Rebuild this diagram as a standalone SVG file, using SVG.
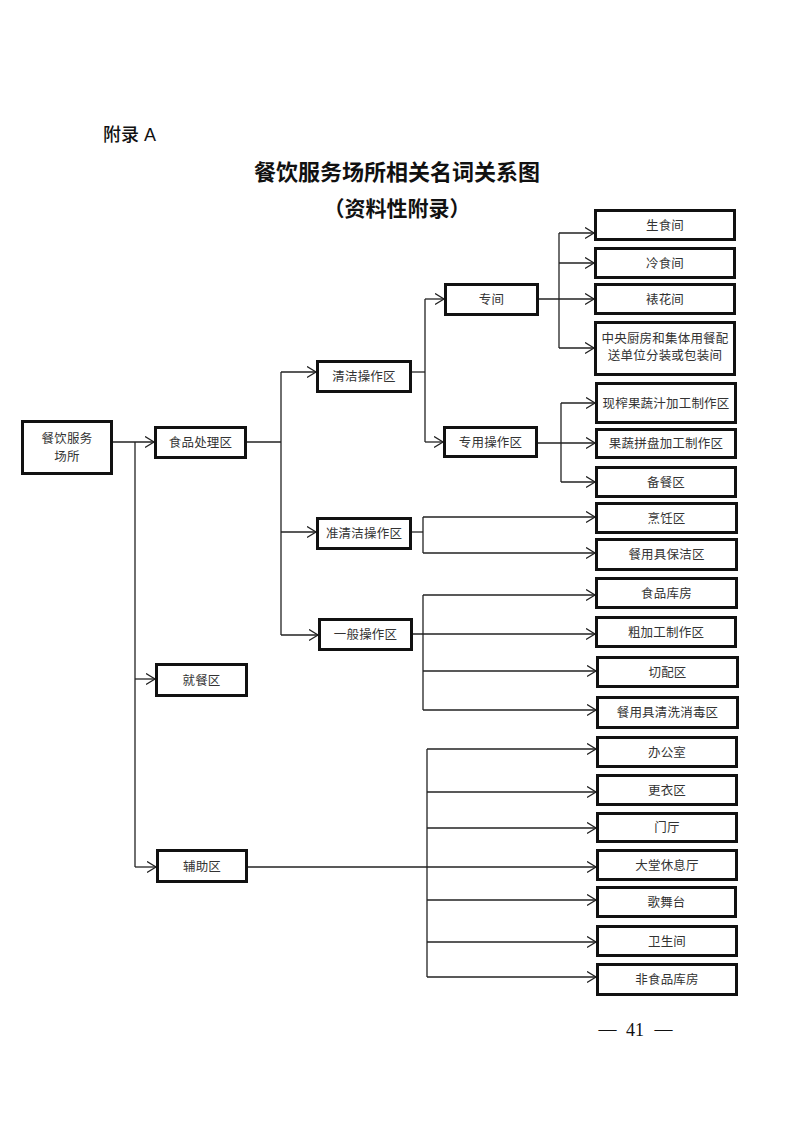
<svg xmlns="http://www.w3.org/2000/svg" width="793" height="1122" viewBox="0 0 793 1122">
<style>
.bg{fill:#ffffff}
.box{fill:#ffffff;stroke:#111;stroke-width:3}
.lbl{font-family:"Liberation Serif","Noto Sans CJK SC",serif;font-size:12.5px;letter-spacing:0.2px;fill:#333;text-anchor:middle}
.con path{fill:none;stroke:#222;stroke-width:1.3}
.arr{marker-end:url(#ah)}
.h1{font-family:"Liberation Sans","Noto Sans CJK SC",sans-serif;font-size:18px;font-weight:500;fill:#111}
.title{font-family:"Liberation Serif","Noto Sans CJK SC",serif;font-size:22px;font-weight:bold;fill:#111;text-anchor:middle}
.sub{font-family:"Liberation Serif","Noto Sans CJK SC",serif;font-size:21px;font-weight:bold;fill:#111;text-anchor:middle}
.pg{font-family:"Liberation Serif","Noto Sans CJK SC",serif;font-size:18px;fill:#111;text-anchor:middle}
</style>
<defs>
<marker id="ah" markerUnits="userSpaceOnUse" markerWidth="12" markerHeight="14" refX="9" refY="6" orient="auto">
<path d="M0,0.5 L9,6 L0,11.5" fill="none" stroke="#222" stroke-width="1.3"/>
</marker>
</defs>
<rect class="bg" x="0" y="0" width="793" height="1122"/>

<text class="h1" x="103" y="141">附录 A</text>
<text class="title" x="397" y="180">餐饮服务场所相关名词关系图</text>
<text class="sub" x="397" y="216">（资料性附录）</text>

<g id="connectors" class="con">
<path class="arr" d="M113,442 H154"/>
<path d="M135,442 V867"/>
<path class="arr" d="M135,679 H155"/>
<path class="arr" d="M135,867 H156"/>
<path d="M247,442 H281"/>
<path d="M281,372 V635"/>
<path class="arr" d="M281,372 H316"/>
<path class="arr" d="M281,532 H316"/>
<path class="arr" d="M281,635 H318"/>
<path d="M412,372 H425"/>
<path d="M425,299 V442"/>
<path class="arr" d="M425,299 H444"/>
<path class="arr" d="M425,442 H443"/>
<path class="arr" d="M539,299 H594"/>
<path d="M559,233 V348"/>
<path class="arr" d="M559,233 H594"/>
<path class="arr" d="M559,263 H594"/>
<path class="arr" d="M559,348 H594"/>
<path class="arr" d="M538,443 H595"/>
<path d="M561,403 V482"/>
<path class="arr" d="M561,403 H595"/>
<path class="arr" d="M561,482 H595"/>
<path d="M412,532 H423"/>
<path d="M423,517 V553"/>
<path class="arr" d="M423,517 H595"/>
<path class="arr" d="M423,553 H595"/>
<path class="arr" d="M413,634 H595"/>
<path d="M423,595 V710"/>
<path class="arr" d="M423,595 H595"/>
<path class="arr" d="M423,671 H596"/>
<path class="arr" d="M423,710 H596"/>
<path class="arr" d="M248,867 H596"/>
<path d="M427,749 V977"/>
<path class="arr" d="M427,749 H596"/>
<path class="arr" d="M427,792 H596"/>
<path class="arr" d="M427,828 H596"/>
<path class="arr" d="M427,900 H596"/>
<path class="arr" d="M427,942 H596"/>
<path class="arr" d="M427,977 H596"/>
</g>

<g id="n-root"><rect class="box" x="22.5" y="421.5" width="89" height="52"/><text class="lbl" x="67" y="443">餐饮服务</text><text class="lbl" x="67" y="461">场所</text></g>
<g id="n-spcl"><rect class="box" x="155.5" y="427.5" width="90" height="30"/><text class="lbl" x="200.5" y="447">食品处理区</text></g>
<g id="n-jcq"><rect class="box" x="156.5" y="664.5" width="90" height="31"/><text class="lbl" x="201.5" y="684.5">就餐区</text></g>
<g id="n-fzq"><rect class="box" x="157.5" y="850.5" width="89" height="31"/><text class="lbl" x="202" y="870.5">辅助区</text></g>
<g id="n-qj"><rect class="box" x="317.5" y="361.5" width="93" height="30"/><text class="lbl" x="364" y="381">清洁操作区</text></g>
<g id="n-zqj"><rect class="box" x="317.5" y="518.5" width="93" height="30"/><text class="lbl" x="364" y="538">准清洁操作区</text></g>
<g id="n-yb"><rect class="box" x="319.5" y="619.5" width="92" height="30"/><text class="lbl" x="365.5" y="639">一般操作区</text></g>
<g id="n-zj"><rect class="box" x="445.5" y="284.5" width="92" height="30"/><text class="lbl" x="491.5" y="304">专间</text></g>
<g id="n-zy"><rect class="box" x="444.5" y="427.5" width="92" height="29"/><text class="lbl" x="490.5" y="446.5">专用操作区</text></g>
<g id="n-ssj"><rect class="box" x="595.5" y="210.5" width="139" height="29"/><text class="lbl" x="665" y="229.5">生食间</text></g>
<g id="n-lsj"><rect class="box" x="595.5" y="248.5" width="139" height="29"/><text class="lbl" x="665" y="267.5">冷食间</text></g>
<g id="n-bhj"><rect class="box" x="595.5" y="284.5" width="139" height="29"/><text class="lbl" x="665" y="303.5">裱花间</text></g>
<g id="n-zycf"><rect class="box" x="595.5" y="322.5" width="139" height="52"/><text class="lbl" x="665" y="343">中央厨房和集体用餐配</text><text class="lbl" x="665" y="360">送单位分装或包装间</text></g>
<g id="n-xz"><rect class="box" x="596.5" y="383.5" width="139" height="39"/><text class="lbl" x="666" y="407.5">现榨果蔬汁加工制作区</text></g>
<g id="n-gs"><rect class="box" x="596.5" y="429.5" width="139" height="28"/><text class="lbl" x="666" y="448">果蔬拼盘加工制作区</text></g>
<g id="n-bc"><rect class="box" x="596.5" y="467.5" width="139" height="29"/><text class="lbl" x="666" y="486.5">备餐区</text></g>
<g id="n-pr"><rect class="box" x="596.5" y="503.5" width="140" height="29"/><text class="lbl" x="666.5" y="522.5">烹饪区</text></g>
<g id="n-bj"><rect class="box" x="596.5" y="539.5" width="140" height="30"/><text class="lbl" x="666.5" y="559">餐用具保洁区</text></g>
<g id="n-spkf"><rect class="box" x="596.5" y="578.5" width="140" height="29"/><text class="lbl" x="666.5" y="597.5">食品库房</text></g>
<g id="n-cjg"><rect class="box" x="596.5" y="617.5" width="139" height="29"/><text class="lbl" x="666" y="636.5">粗加工制作区</text></g>
<g id="n-qp"><rect class="box" x="597.5" y="657.5" width="140" height="29"/><text class="lbl" x="667.5" y="676.5">切配区</text></g>
<g id="n-qx"><rect class="box" x="597.5" y="697.5" width="140" height="30"/><text class="lbl" x="667.5" y="717">餐用具清洗消毒区</text></g>
<g id="n-bgs"><rect class="box" x="597.5" y="737.5" width="139" height="29"/><text class="lbl" x="667" y="756.5">办公室</text></g>
<g id="n-gy"><rect class="box" x="597.5" y="775.5" width="139" height="29"/><text class="lbl" x="667" y="794.5">更衣区</text></g>
<g id="n-mt"><rect class="box" x="597.5" y="813.5" width="139" height="28"/><text class="lbl" x="667" y="832">门厅</text></g>
<g id="n-dt"><rect class="box" x="597.5" y="850.5" width="139" height="29"/><text class="lbl" x="667" y="869.5">大堂休息厅</text></g>
<g id="n-gw"><rect class="box" x="597.5" y="887.5" width="138" height="29"/><text class="lbl" x="666.5" y="906.5">歌舞台</text></g>
<g id="n-ws"><rect class="box" x="597.5" y="926.5" width="139" height="29"/><text class="lbl" x="667" y="945.5">卫生间</text></g>
<g id="n-fsp"><rect class="box" x="597.5" y="964.5" width="139" height="30"/><text class="lbl" x="667" y="984">非食品库房</text></g>

<text class="pg" x="607.5" y="1035">—</text>
<text class="pg" x="635" y="1036">41</text>
<text class="pg" x="663.5" y="1035">—</text>
</svg>
